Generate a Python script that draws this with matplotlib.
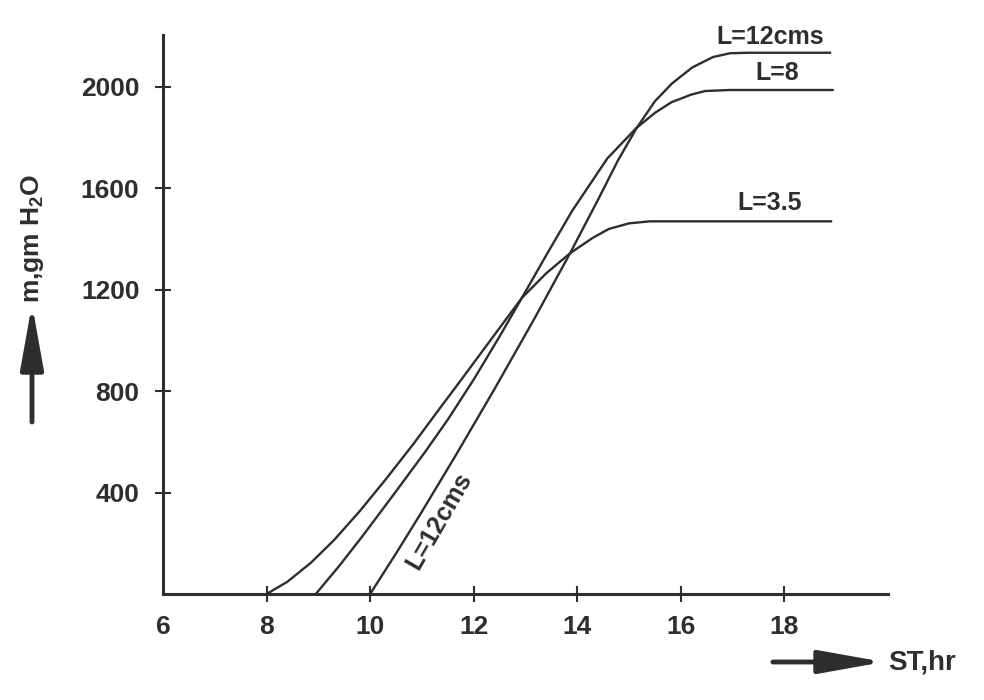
import matplotlib
matplotlib.use('Agg')
import matplotlib.pyplot as plt

plt.rcParams['font.family'] = ['Liberation Sans', 'DejaVu Sans']
plt.rcParams['mathtext.default'] = 'regular'

# (ST in hr, m in gm H2O)
st_35 = [8.0, 8.4, 8.86, 9.3, 9.8, 10.3, 10.84, 11.3, 11.74, 12.4, 12.93, 13.4, 13.86, 14.3, 14.61, 15.0, 15.4, 16.0, 18.9]
m_35 = [0, 48, 124, 212, 327, 452, 593, 720, 840, 1022, 1168, 1265, 1344, 1405, 1440, 1462, 1470, 1470, 1470]

st_8 = [8.95, 9.4, 9.84, 10.5, 11.06, 11.5, 12.0, 12.5, 12.93, 13.4, 13.9, 14.58, 15.14, 15.5, 15.82, 16.2, 16.47, 16.93, 18.93]
m_8 = [0, 110, 225, 405, 560, 688, 846, 1016, 1168, 1336, 1511, 1718, 1838, 1898, 1940, 1970, 1984, 1988, 1988]

st_12 = [10.0, 10.5, 11.0, 11.65, 12.4, 13.18, 13.86, 14.4, 14.79, 15.14, 15.5, 15.83, 16.22, 16.62, 16.95, 17.3, 18.88]
m_12 = [0, 160, 325, 546, 808, 1089, 1344, 1555, 1712, 1836, 1944, 2014, 2077, 2118, 2133, 2135, 2135]

x_ticks = [6, 8, 10, 12, 14, 16, 18]
y_ticks = [400, 800, 1200, 1600, 2000]

ink = '#2e2e2e'

fig = plt.figure(figsize=(9.84, 7), dpi=100)
ax = fig.add_axes([163/984, 106/700, 725/984, 559/700])

ax.plot(st_35, m_35, color=ink, lw=1.7)
ax.plot(st_8, m_8, color=ink, lw=1.7)
ax.plot(st_12, m_12, color=ink, lw=1.7)

ax.set_xlim(6, 20)
ax.set_ylim(0, 2205)
ax.spines[['top', 'right']].set_visible(False)
for s in ['left', 'bottom']:
    ax.spines[s].set_linewidth(2.2)
    ax.spines[s].set_color(ink)

ax.set_xticks(x_ticks)
ax.set_yticks(y_ticks)
ax.tick_params(direction='inout', length=12, width=1.5, colors=ink)
ax.tick_params(axis='y', pad=11, labelsize=19)
ax.tick_params(axis='x', pad=9, labelsize=19)
ax.xaxis.get_major_ticks()[0].tick1line.set_visible(False)
for lab in ax.get_xticklabels() + ax.get_yticklabels():
    lab.set_fontweight('bold')

# curve labels
kw = dict(fontsize=18, color=ink, fontweight='bold', ha='center', va='center')
ax.text(17.73, 2199, 'L=12cms', clip_on=False, **kw)
ax.text(17.86, 2057, 'L=8', **kw)
ax.text(17.72, 1544, 'L=3.5', **kw)
ax.text(11.34, 289, 'L=12cms', rotation=60, **kw)

# axis titles with arrows
arrow = dict(arrowstyle='-|>,head_length=2.8,head_width=0.5', lw=3.5, color=ink,
             mutation_scale=14, shrinkA=0, shrinkB=0)
fig.text(33/984, 1 - 238/700, 'm,gm H$_2$O', rotation=90, fontsize=19, color=ink,
         fontweight='bold', ha='center', va='center')
ax.annotate('', xy=(32, 700 - 304), xycoords='figure pixels', xytext=(32, 700 - 422),
            arrowprops=arrow)
fig.text(888/984, 1 - 662/700, 'ST,hr', fontsize=20, color=ink, fontweight='bold',
         ha='left', va='center')
ax.annotate('', xy=(884, 700 - 662), xycoords='figure pixels', xytext=(773, 700 - 662),
            arrowprops=arrow)

fig.savefig('out.png', dpi=100)
